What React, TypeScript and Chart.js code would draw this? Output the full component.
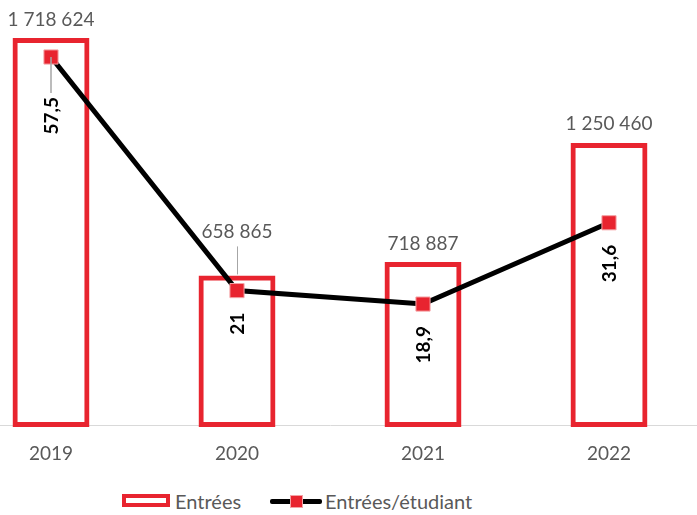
import React, { useEffect, useRef } from "react";
import { Chart, registerables } from "chart.js";

Chart.register(...registerables);

// ---- data ----
const years = ["2019", "2020", "2021", "2022"];
const entrees = [1718624, 658865, 718887, 1250460];
const entreesParEtudiant = [57.5, 21, 18.9, 31.6];
const entreesLabels = ["1 718 624", "658 865", "718 887", "1 250 460"];
const ratioLabels = ["57,5", "21", "18,9", "31,6"];

// ---- label placement (style, not data) ----
const barLabelGap = [20, 46, 20, 21];
const lineLabelGap = [40, 22, 22, 22];

const RED = "#e8242f";
const GRAY = "#595959";
const FONT = "Lato, 'Open Sans', sans-serif";

const labelPlugin = {
  id: "valueLabels",
  afterDatasetsDraw(chart: any) {
    const ctx = chart.ctx;
    const lineMeta = chart.getDatasetMeta(0);
    const barMeta = chart.getDatasetMeta(1);
    ctx.save();
    // bar labels
    ctx.font = `19px ${FONT}`;
    ctx.textAlign = "center";
    ctx.textBaseline = "middle";
    barMeta.data.forEach((el: any, i: number) => {
      const cy = el.y - barLabelGap[i];
      ctx.fillStyle = GRAY;
      ctx.fillText(entreesLabels[i], el.x, cy);
      if (barLabelGap[i] > 30) {
        ctx.strokeStyle = "#a6a6a6";
        ctx.lineWidth = 1;
        ctx.beginPath();
        ctx.moveTo(el.x + 0.5, cy + 15);
        ctx.lineTo(el.x + 0.5, el.y - 3);
        ctx.stroke();
      }
    });
    // line labels (rotated)
    lineMeta.data.forEach((pt: any, i: number) => {
      const start = pt.y + lineLabelGap[i];
      if (lineLabelGap[i] > 30) {
        ctx.strokeStyle = "#a6a6a6";
        ctx.lineWidth = 1.5;
        ctx.beginPath();
        ctx.moveTo(pt.x, pt.y);
        ctx.lineTo(pt.x, start - 4);
        ctx.stroke();
      }
      ctx.save();
      ctx.translate(pt.x, start);
      ctx.rotate(-Math.PI / 2);
      ctx.font = `bold 19px ${FONT}`;
      ctx.fillStyle = "#000";
      ctx.textAlign = "right";
      ctx.textBaseline = "middle";
      ctx.fillText(ratioLabels[i], 0, 1);
      ctx.restore();
    });
    ctx.restore();
  },
};

export default function App() {
  const canvasRef = useRef<HTMLCanvasElement | null>(null);

  useEffect(() => {
    const canvas = canvasRef.current;
    if (!canvas) return;
    const chart = new Chart(canvas, {
      data: {
        labels: years,
        datasets: [
          {
            type: "line",
            label: "Entrées/étudiant",
            data: entreesParEtudiant,
            yAxisID: "y2",
            borderColor: "#000",
            borderWidth: 5,
            tension: 0,
            pointStyle: "rect",
            pointRadius: 10,
            pointHoverRadius: 10,
            pointBackgroundColor: RED,
            pointBorderColor: "#f4a3a6",
            pointBorderWidth: 1,
            order: 0,
            clip: false,
          } as any,
          {
            type: "bar",
            label: "Entrées",
            data: entrees,
            yAxisID: "y",
            backgroundColor: "rgba(0,0,0,0)",
            borderColor: RED,
            borderWidth: 1,
            inflateAmount: 2,
            borderSkipped: false,
            barPercentage: 0.392,
            categoryPercentage: 1,
            order: 1,
            clip: false,
          } as any,
        ],
      },
      options: {
        responsive: false,
        animation: false,
        devicePixelRatio: 1,
        layout: { padding: 0 },
        plugins: {
          legend: { display: false },
          tooltip: { enabled: false },
        },
        scales: {
          x: {
            grid: { display: false, drawTicks: false },
            border: { display: true, color: "#d9d9d9", width: 1 },
            ticks: {
              color: GRAY,
              font: { family: FONT, size: 19 },
              padding: 17,
            },
            afterFit: (s: any) => {
              s.height = 50;
            },
          },
          y: { display: false, min: 0, max: 2000000 },
          y2: { display: false, min: 0, max: 70, position: "right" },
        },
      } as any,
      plugins: [labelPlugin],
    });
    return () => chart.destroy();
  }, []);

  const legendText: React.CSSProperties = {
    position: "absolute",
    font: `20px ${FONT}`,
    color: GRAY,
    lineHeight: "20px",
    whiteSpace: "nowrap",
  };

  return (
    <div
      style={{
        position: "fixed",
        left: 0,
        top: 0,
        width: 697,
        height: 515,
        overflow: "hidden",
        background: "#fff",
      }}
    >
      <canvas
        ref={canvasRef}
        width={766}
        height={509}
        style={{ position: "absolute", left: -53, top: -34 }}
      />
      <div
        style={{
          position: "absolute",
          left: 122,
          top: 494,
          width: 48,
          height: 13,
          border: `4px solid ${RED}`,
          boxSizing: "border-box",
          background: "#fff",
        }}
      />
      <div style={{ ...legendText, left: 175, top: 491 }}>Entrées</div>
      <div
        style={{
          position: "absolute",
          left: 270,
          top: 499,
          width: 52,
          height: 5,
          background: "#000",
          borderRadius: 2,
        }}
      />
      <div
        style={{
          position: "absolute",
          left: 290,
          top: 495,
          width: 13,
          height: 13,
          background: RED,
          border: "1.5px solid #f4a3a6",
          boxSizing: "border-box",
        }}
      />
      <div style={{ ...legendText, left: 325, top: 491 }}>Entrées/étudiant</div>
    </div>
  );
}
